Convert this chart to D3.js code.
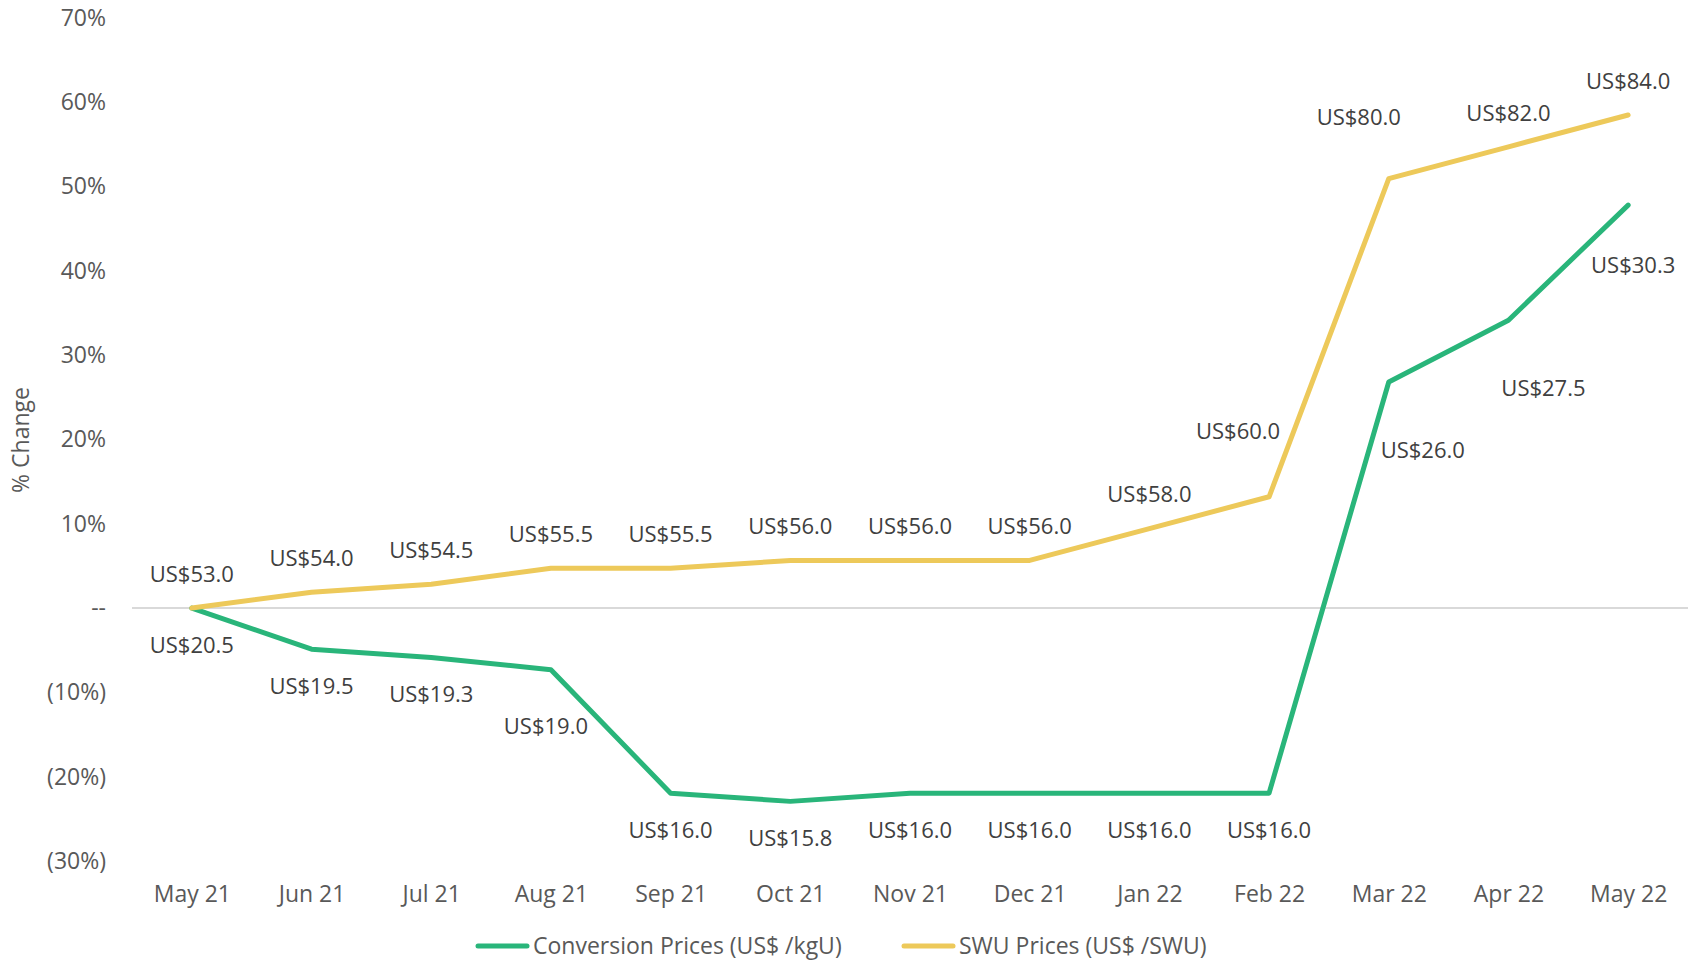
<!DOCTYPE html>
<head>
  <meta charset="utf-8">
  <script src="https://d3js.org/d3.v7.min.js"></script>
  <style>
    body { margin:0; background:#fff; }
    text { font-family: "Open Sans", sans-serif; }
  </style>
</head>
<body>
<script>

// months on the x axis
var months = ["May 21","Jun 21","Jul 21","Aug 21","Sep 21","Oct 21","Nov 21","Dec 21","Jan 22","Feb 22","Mar 22","Apr 22","May 22"];

// spot prices, US$ (the lines show % change vs. the first month)
var conversionPrices = [20.5, 19.5, 19.3, 19.0, 16.0, 15.8, 16.0, 16.0, 16.0, 16.0, 26.0, 27.5, 30.3];
var swuPrices = [53.0, 54.0, 54.5, 55.5, 55.5, 56.0, 56.0, 56.0, 58.0, 60.0, 80.0, 82.0, 84.0];

var yTicks = [-0.3, -0.2, -0.1, 0, 0.1, 0.2, 0.3, 0.4, 0.5, 0.6, 0.7];

var seriesNames = ["Conversion Prices (US$ /kgU)", "SWU Prices (US$ /SWU)"];

// label placement tweaks (layout only), keyed by month index
var convNudge = {3: [-5, 57], 10: [34, 68], 11: [35, 68], 12: [5, 60]};
var swuNudge = {9: [-31, -65], 10: [-30, -61]};

var W = 1694, H = 965;
var green = "#29b57a", yellow = "#edc95a";
var fs = "23px";

var svg = d3.select("body").append("svg")
    .attr("width", W)
    .attr("height", H);

var x = d3.scalePoint()
    .domain(months)
    .range([132, 1688])
    .padding(0.5);

var y = d3.scaleLinear()
    .domain([-0.3, 0.7])
    .range([861, 18]);

function pct(arr) {
  return arr.map(function(v) { return v / arr[0] - 1; });
}
var convPct = pct(conversionPrices);
var swuPct = pct(swuPrices);

function fmtTick(d) {
  var v = Math.round(d * 100);
  if (v === 0) return "--";
  if (v < 0) return "(" + (-v) + "%)";
  return v + "%";
}

// zero line
svg.append("line")
  .attr("x1", 132).attr("x2", 1688)
  .attr("y1", y(0)).attr("y2", y(0))
  .attr("stroke", "#d9d9d9")
  .attr("stroke-width", 2);

// y axis labels
var yAxis = svg.append("g")
  .attr("transform", "translate(106,0)")
  .call(d3.axisLeft(y).tickValues(yTicks).tickFormat(fmtTick).tickSize(0).tickPadding(0));
yAxis.select(".domain").remove();
yAxis.selectAll("text")
  .attr("fill", "#595959")
  .style("font-size", fs)
  .style("font-family", "'Open Sans', sans-serif");

// x axis labels
var xAxis = svg.append("g")
  .attr("transform", "translate(0,886)")
  .call(d3.axisBottom(x).tickSize(0).tickPadding(0));
xAxis.select(".domain").remove();
xAxis.selectAll("text")
  .attr("fill", "#595959")
  .style("font-size", fs)
  .style("font-family", "'Open Sans', sans-serif");

// axis title
svg.append("text")
  .attr("transform", "translate(29,440) rotate(-90)")
  .attr("text-anchor", "middle")
  .attr("fill", "#595959")
  .style("font-size", fs)
  .text("% Change");

var line = d3.line()
  .x(function(d, i) { return x(months[i]); })
  .y(function(d) { return y(d); });

function drawSeries(vals, prices, color, defDy, nudge) {
  svg.append("path")
    .datum(vals)
    .attr("fill", "none")
    .attr("stroke", color)
    .attr("stroke-width", 5)
    .attr("stroke-linecap", "round")
    .attr("stroke-linejoin", "round")
    .attr("d", line);

  svg.append("g").selectAll("text")
    .data(vals)
    .enter().append("text")
    .attr("x", function(d, i) { return x(months[i]) + (nudge[i] ? nudge[i][0] : 0); })
    .attr("y", function(d, i) { return y(d) + (nudge[i] ? nudge[i][1] : defDy); })
    .attr("dy", "0.35em")
    .attr("text-anchor", "middle")
    .attr("fill", "#404040")
    .style("font-size", "22px")
    .text(function(d, i) { return "US$" + prices[i].toFixed(1); });
}

drawSeries(convPct, conversionPrices, green, 37, convNudge);
drawSeries(swuPct, swuPrices, yellow, -34, swuNudge);

// legend
var legend = [
  {name: seriesNames[0], color: green, x: 476},
  {name: seriesNames[1], color: yellow, x: 902}
];
var lg = svg.append("g").selectAll("g")
  .data(legend)
  .enter().append("g")
  .attr("transform", function(d) { return "translate(" + d.x + ",946)"; });
lg.append("line")
  .attr("x1", 2).attr("x2", 51)
  .attr("stroke", function(d) { return d.color; })
  .attr("stroke-width", 5)
  .attr("stroke-linecap", "round");
lg.append("text")
  .attr("x", 57)
  .attr("dy", "0.35em")
  .attr("fill", "#595959")
  .style("font-size", fs)
  .text(function(d) { return d.name; });

</script>
</body>
